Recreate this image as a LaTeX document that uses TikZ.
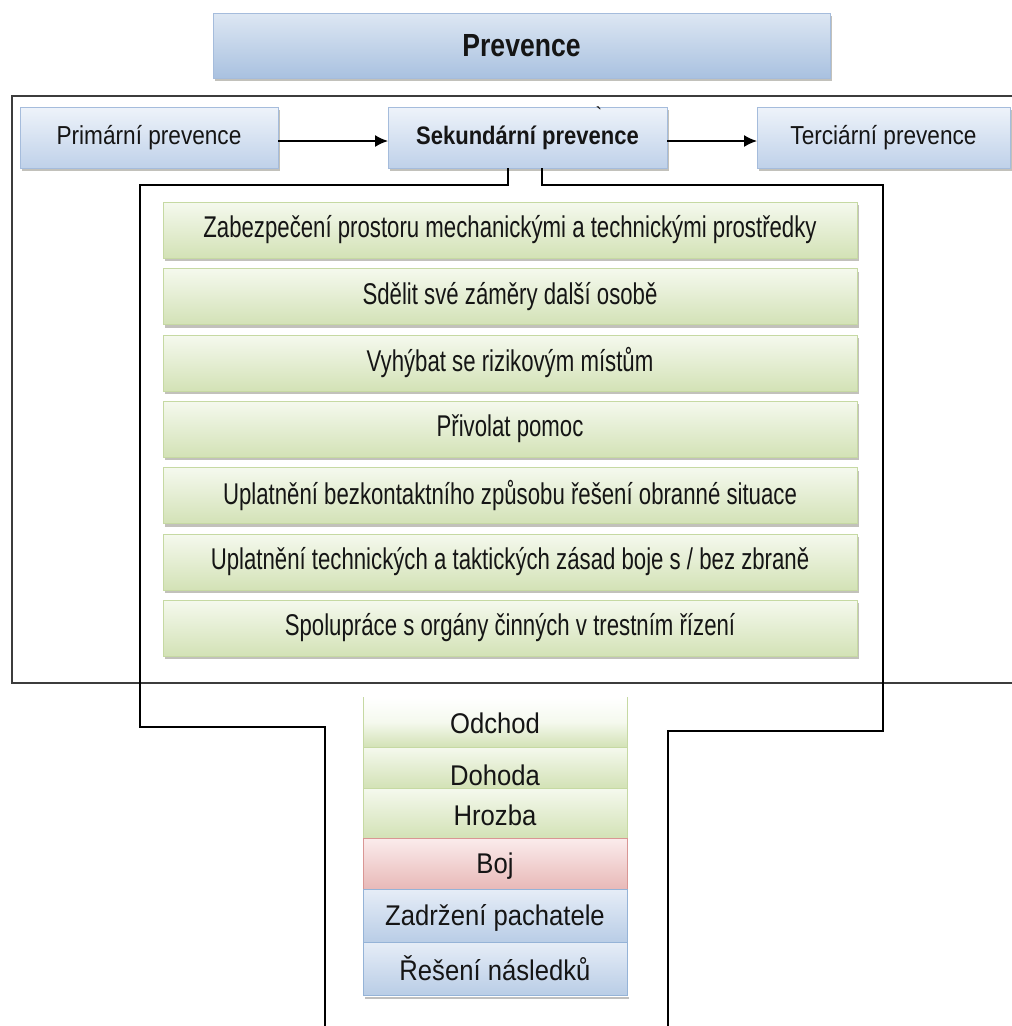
\documentclass[tikz,border=0pt]{standalone}
\usepackage{fontspec}
\setmainfont{Liberation Sans}
\newfontfamily\hdfont[FakeStretch=0.83]{Liberation Sans}
\newfontfamily\rowfont[FakeStretch=0.87]{Liberation Sans}
\newfontfamily\grfont[FakeStretch=0.74]{Liberation Sans}
\newfontfamily\stfont[FakeStretch=0.9]{Liberation Sans}
\usetikzlibrary{arrows.meta,shadows}
\definecolor{txt}{HTML}{151515}
\definecolor{frame}{HTML}{3C3C3C}
\definecolor{bluetop}{HTML}{EEF3FA}
\definecolor{bluebot}{HTML}{BFD1E9}
\definecolor{blueline}{HTML}{A5BCDC}
\definecolor{hdtop}{HTML}{DDE7F3}
\definecolor{hdbot}{HTML}{A9C1E0}
\definecolor{greentop}{HTML}{F5F9EE}
\definecolor{greenbot}{HTML}{D3E2B6}
\definecolor{greenline}{HTML}{C6D9A3}
\definecolor{redtop}{HTML}{FBECEC}
\definecolor{redbot}{HTML}{E8B9B8}
\definecolor{redline}{HTML}{D99694}
\definecolor{stbluetop}{HTML}{E6EDF7}
\definecolor{stbluebot}{HTML}{B9CDE6}
\definecolor{stblueline}{HTML}{95B3D7}
\begin{document}
\begin{tikzpicture}[x=1pt,y=-1pt,
  box/.style={draw, inner sep=0pt, outer sep=0pt, anchor=north west, text=txt, align=center},
  shad/.style={drop shadow={shadow xshift=2pt, shadow yshift=-3pt, fill=black!70!olive, opacity=0.32}},
  headbox/.style={box, shad, draw=blueline, top color=hdtop, bottom color=hdbot,
    font=\hdfont\fontsize{32}{36}\selectfont\bfseries},
  bluebox/.style={box, shad, draw=blueline, top color=bluetop, bottom color=bluebot,
    minimum height=61pt, font=\rowfont\fontsize{26}{30}\selectfont},
  greenbox/.style={box, shad, draw=greenline, top color=greentop, bottom color=greenbot,
    minimum width=694pt, minimum height=56pt, font=\grfont\fontsize{30}{34}\selectfont},
  cell/.style={inner sep=0pt, outer sep=0pt, anchor=north west, minimum width=264pt},
  celltext/.style={text=txt, font=\stfont\fontsize{28.5}{32}\selectfont, inner sep=0pt},
  conn/.style={draw=black, line width=1.4pt},
  arr/.style={draw=black, line width=1.5pt, -{Latex[length=13pt,width=12pt]}}
]
\useasboundingbox (0,0) rectangle (1012,1026);
\fill[white] (0,0) rectangle (1012,1026);

% outer frame
\draw[frame, line width=1.6pt] (1012,96) -- (12,96) -- (12,683) -- (1012,683);

% header
\node[headbox, minimum width=617pt, minimum height=65pt] (prev) at (213,13) {Prevence};

% top row
\node[bluebox, minimum width=258pt] (prim) at (20,107) {Primární prevence};
\node[bluebox, minimum width=279pt, font=\rowfont\fontsize{25.3}{30}\selectfont\bfseries] (sek) at (388,107) {Sekundární prevence};
\node[bluebox, minimum width=253pt] (terc) at (757,107) {Terciární prevence};
\node[text=txt, font=\fontsize{20}{20}\selectfont, inner sep=0pt, anchor=north] (tick) at (599,107) {\textasciigrave};

\draw[arr] ([yshift=-3.5pt]prim.east) -- ([yshift=-3.5pt]sek.west);
\draw[arr] ([yshift=-3.5pt]sek.east) -- ([yshift=-3.5pt]terc.west);

% bracket connectors
\coordinate (la) at (508,185);
\coordinate (lb) at (140,185);
\coordinate (lc) at (140,727);
\coordinate (ld) at (325,727);
\coordinate (le) at (325,1026);
\coordinate (ra) at (542,185);
\coordinate (rb) at (883,185);
\coordinate (rc) at (883,731);
\coordinate (rd) at (668,731);
\coordinate (re) at (668,1026);
\draw[conn] (sek.south -| la) -- (la) -- (lb) -- (lc) -- (ld) -- (le);
\draw[conn] (sek.south -| ra) -- (ra) -- (rb) -- (rc) -- (rd) -- (re);

% green boxes
\node[greenbox] (g1) at (163,202) {Zabezpečení prostoru mechanickými a technickými prostředky};
\node[greenbox] (g2) at (163,268.5) {Sdělit své záměry další osobě};
\node[greenbox] (g3) at (163,335) {Vyhýbat se rizikovým místům};
\node[greenbox] (g4) at (163,401) {Přivolat pomoc};
\node[greenbox] (g5) at (163,467.5) {Uplatnění bezkontaktního způsobu řešení obranné situace};
\node[greenbox] (g6) at (163,534) {Uplatnění technických a taktických zásad boje s / bez zbraně};
\node[greenbox] (g7) at (163,600) {Spolupráce s orgány činných v trestním řízení};

% bottom stack
\fill[black, opacity=0.25] (365,997) rectangle (629,999);
\node[cell, minimum height=50pt, top color=white, bottom color=greenbot, middle color=greentop] (c1) at (363,697) {};
\draw[greenline, line width=1pt] (c1.north west) -- (c1.south west) -- (c1.south east) -- (c1.north east);
\node[cell, minimum height=41pt, draw=greenline, line width=1pt, top color=greentop, bottom color=greenbot] (c2) at (363,747) {};
\node[cell, minimum height=50pt, draw=greenline, line width=1pt, top color=greentop, bottom color=greenbot] (c3) at (363,788) {};
\node[cell, minimum height=51pt, draw=redline, line width=1pt, top color=redtop, bottom color=redbot] (c4) at (363,838) {};
\node[cell, minimum height=53pt, draw=stblueline, line width=1pt, top color=stbluetop, bottom color=stbluebot] (c5) at (363,889) {};
\node[cell, minimum height=53pt, draw=stblueline, line width=1pt, top color=stbluetop, bottom color=stbluebot] (c6) at (363,942) {};

\node[celltext] (t1) at (495,723) {Odchod};
\node[celltext] (t2) at (495,775) {Dohoda};
\node[celltext] (t3) at (495,815) {Hrozba};
\node[celltext] (t4) at (495,866) {Boj};
\node[celltext] (t5) at (495,918) {Zadržení pachatele};
\node[celltext] (t6) at (495,968) {Řešení následků};
\end{tikzpicture}
\end{document}
